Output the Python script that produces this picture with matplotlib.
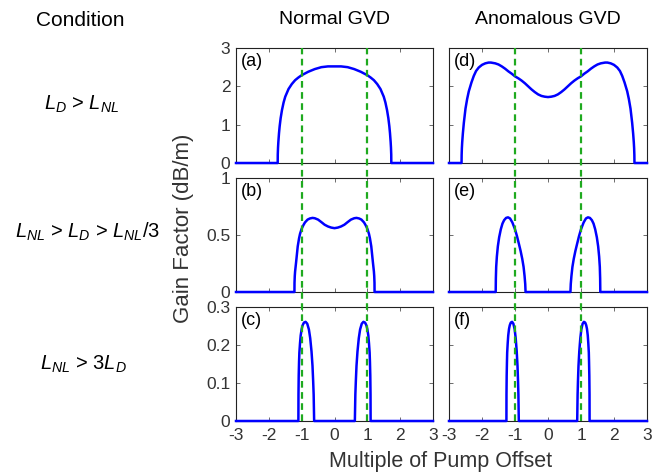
import matplotlib
matplotlib.use("Agg")
import matplotlib.pyplot as plt

plt.rcParams['font.family'] = ['Liberation Sans', 'DejaVu Sans']
plt.rcParams['mathtext.fontset'] = 'custom'
plt.rcParams['mathtext.it'] = 'Liberation Sans:italic'
plt.rcParams['mathtext.rm'] = 'Liberation Sans'
plt.rcParams['mathtext.default'] = 'it'

# ---------------- data ----------------
columns = ['Normal GVD', 'Anomalous GVD']
conditions = [r'$L_D$ > $L_{NL}$', r'$L_{NL}$ > $L_D$ > $L_{NL}$/3', r'$L_{NL}$ > 3$L_D$']
panel_labels = ['(a)', '(b)', '(c)', '(d)', '(e)', '(f)']
x_ticks = [-3, -2, -1, 0, 1, 2, 3]
y_ticks_rows = [[0, 1, 2, 3], [0, 0.5, 1], [0, 0.1, 0.2, 0.3]]
y_tick_labels_rows = [['0', '1', '2', '3'], ['0', '0.5', '1'], ['0', '0.1', '0.2', '0.3']]
y_max_rows = [3, 1, 0.3]
pump_offsets = [-1, 1]

# (a) normal GVD, L_D > L_NL
xa = [-3.0, -1.73, -1.728, -1.72, -1.71, -1.69, -1.67, -1.64, -1.6, -1.55, -1.5, -1.4, -1.3, -1.2, -1.1, -1.0,
      -0.8, -0.6, -0.4, -0.2, 0.0, 0.2, 0.4, 0.6, 0.8, 1.0, 1.1, 1.2, 1.3, 1.4, 1.5, 1.55, 1.6, 1.64, 1.67, 1.69,
      1.71, 1.72, 1.728, 1.73, 3.0]
ya = [0, 0, 0.22, 0.40, 0.55, 0.78, 0.96, 1.17, 1.38, 1.58, 1.73, 1.93, 2.06, 2.16, 2.23, 2.29,
      2.38, 2.45, 2.50, 2.52, 2.52, 2.52, 2.50, 2.45, 2.38, 2.29, 2.23, 2.16, 2.06, 1.93, 1.73, 1.58, 1.38, 1.17, 0.96, 0.78,
      0.55, 0.40, 0.22, 0, 0]

# (b) normal GVD, L_NL > L_D > L_NL/3
xb = [-3.0, -1.22, -1.218, -1.21, -1.20, -1.17, -1.12, -1.08, -1.05, -1.0, -0.95, -0.9, -0.82, -0.75, -0.67, -0.6,
      -0.5, -0.4, -0.3, -0.2, -0.1, 0.0, 0.1, 0.2, 0.3, 0.4, 0.5, 0.6, 0.67, 0.75, 0.82, 0.9, 0.95, 1.0, 1.05, 1.08,
      1.12, 1.17, 1.20, 1.21, 1.218, 1.22, 3.0]
yb = [0, 0, 0.08, 0.14, 0.18, 0.26, 0.40, 0.47, 0.51, 0.555, 0.585, 0.61, 0.635, 0.645, 0.65, 0.647,
      0.635, 0.613, 0.59, 0.575, 0.565, 0.56, 0.565, 0.575, 0.59, 0.613, 0.635, 0.647, 0.65, 0.645, 0.635, 0.61, 0.585,
      0.555, 0.51, 0.47, 0.40, 0.26, 0.18, 0.14, 0.08, 0, 0]

# (c) normal GVD, L_NL > 3 L_D
xc = [-3.0, -1.10, -1.097, -1.09, -1.08, -1.07, -1.05, -1.03, -1.0, -0.97, -0.93, -0.88, -0.83, -0.78, -0.74,
      -0.70, -0.67, -0.65, -0.635, -0.62, 0.62, 0.635, 0.65, 0.67, 0.70, 0.74, 0.78, 0.83, 0.88, 0.93, 0.97, 1.0,
      1.03, 1.05, 1.07, 1.08, 1.09, 1.097, 1.10, 3.0]
yc = [0, 0, 0.07, 0.12, 0.155, 0.18, 0.205, 0.225, 0.242, 0.252, 0.259, 0.261, 0.256, 0.241, 0.218,
      0.183, 0.145, 0.105, 0.07, 0, 0, 0.07, 0.105, 0.145, 0.183, 0.218, 0.241, 0.256, 0.261, 0.259, 0.252, 0.242,
      0.225, 0.205, 0.18, 0.155, 0.12, 0.07, 0, 0]

# (d) anomalous GVD, L_D > L_NL
xd = [-3.0, -2.62, -2.617, -2.61, -2.60, -2.58, -2.55, -2.50, -2.45, -2.40, -2.32, -2.25, -2.18, -2.10, -2.0,
      -1.9, -1.8, -1.73, -1.6, -1.5, -1.4, -1.3, -1.2, -1.1, -1.0, -0.9, -0.8, -0.7, -0.6, -0.5, -0.4, -0.3, -0.2,
      -0.1, 0.0, 0.1, 0.2, 0.3, 0.4, 0.5, 0.6, 0.7, 0.8, 0.9, 1.0, 1.1, 1.2, 1.3, 1.4, 1.5, 1.6, 1.73, 1.8, 1.9,
      2.0, 2.10, 2.18, 2.25, 2.32, 2.40, 2.45, 2.50, 2.55, 2.58, 2.60, 2.61, 2.617, 2.62, 3.0]
yd = [0, 0, 0.21, 0.385, 0.54, 0.77, 1.05, 1.42, 1.67, 1.87, 2.10, 2.27, 2.40, 2.49, 2.56,
      2.60, 2.62, 2.62, 2.60, 2.57, 2.52, 2.46, 2.39, 2.33, 2.26, 2.21, 2.15, 2.08, 2.00, 1.92, 1.85, 1.79, 1.75,
      1.73, 1.72, 1.73, 1.75, 1.79, 1.85, 1.92, 2.00, 2.08, 2.15, 2.21, 2.26, 2.33, 2.39, 2.46, 2.52, 2.57, 2.60, 2.62,
      2.62, 2.60, 2.56, 2.49, 2.40, 2.27, 2.10, 1.87, 1.67, 1.42, 1.05, 0.77, 0.54, 0.385, 0.21, 0, 0]

# (e) anomalous GVD, L_NL > L_D > L_NL/3
xe = [-3.0, -1.585, -1.58, -1.57, -1.55, -1.52, -1.48, -1.43, -1.38, -1.33, -1.27, -1.21, -1.15, -1.08, -1.0,
      -0.94, -0.88, -0.83, -0.78, -0.74, -0.71, -0.69, -0.68, 0.68, 0.69, 0.71, 0.74, 0.78, 0.83, 0.88, 0.94, 1.0,
      1.08, 1.15, 1.21, 1.27, 1.33, 1.38, 1.43, 1.48, 1.52, 1.55, 1.57, 1.58, 1.585, 3.0]
ye = [0, 0, 0.12, 0.22, 0.31, 0.40, 0.48, 0.55, 0.60, 0.63, 0.65, 0.655, 0.645, 0.61, 0.55,
      0.49, 0.42, 0.36, 0.29, 0.22, 0.14, 0.07, 0, 0, 0.07, 0.14, 0.22, 0.29, 0.36, 0.42, 0.49, 0.55,
      0.61, 0.645, 0.655, 0.65, 0.63, 0.60, 0.55, 0.48, 0.40, 0.31, 0.22, 0.12, 0, 0]

# (f) anomalous GVD, L_NL > 3 L_D
xf = [-3.0, -1.26, -1.258, -1.252, -1.244, -1.237, -1.221, -1.205, -1.182, -1.158, -1.127, -1.088, -1.049,
      -1.010, -0.979, -0.948, -0.924, -0.908, -0.897, -0.885, 0.885, 0.897, 0.908, 0.924, 0.948, 0.979, 1.010,
      1.049, 1.088, 1.127, 1.158, 1.182, 1.205, 1.221, 1.237, 1.244, 1.252, 1.258, 1.26, 3.0]
yf = [0, 0, 0.07, 0.12, 0.155, 0.18, 0.205, 0.225, 0.242, 0.252, 0.259, 0.261, 0.256,
      0.241, 0.218, 0.183, 0.145, 0.105, 0.07, 0, 0, 0.07, 0.105, 0.145, 0.183, 0.218, 0.241,
      0.256, 0.261, 0.259, 0.252, 0.242, 0.225, 0.205, 0.18, 0.155, 0.12, 0.07, 0, 0]

curves = [[(xa, ya), (xd, yd)], [(xb, yb), (xe, ye)], [(xc, yc), (xf, yf)]]

# ---------------- layout ----------------
W, H = 664, 475
fig = plt.figure(figsize=(W / 100, H / 100), dpi=100)

col_px = [(236, 433), (449, 647)]
row_px = [(48, 163), (178, 292), (307, 421)]

BLUE = '#0000ff'
GREEN = '#1faa1f'
TICKC = '#333333'

axes = [[None, None], [None, None], [None, None]]
for r in range(3):
    for c in range(2):
        x0, x1 = col_px[c]
        y0, y1 = row_px[r]
        ax = fig.add_axes([x0 / W, 1 - y1 / H, (x1 - x0) / W, (y1 - y0) / H])
        axes[r][c] = ax
        xs, ys = curves[r][c]
        ax.plot(xs, ys, color=BLUE, lw=1.8, clip_on=False, zorder=3, solid_joinstyle='round')
        ax.set_xlim(-3, 3)
        ax.set_ylim(0, y_max_rows[r])
        ax.set_xticks(x_ticks)
        ax.set_yticks(y_ticks_rows[r])
        if c == 0:
            ax.set_yticklabels(y_tick_labels_rows[r])
        else:
            ax.set_yticklabels([])
        if r == 2:
            ax.set_xticklabels([str(t) for t in x_ticks])
        else:
            ax.set_xticklabels([])
        ax.tick_params(direction='in', top=True, right=True, length=3, width=0.6,
                       labelsize=12.5, colors='#555555', labelcolor=TICKC)
        ax.tick_params(axis='x', pad=5)
        ax.tick_params(axis='y', pad=4)
        for s in ax.spines.values():
            s.set_linewidth(0.8)
            s.set_color('#222222')
        ax.text(0.025, 0.96, panel_labels[c * 3 + r], transform=ax.transAxes, ha='left', va='top',
                fontsize=13, color='black')

# green dashed lines at the pump offsets, running through all rows of each column
for c in range(2):
    x0, x1 = col_px[c]
    top = row_px[0][0]
    bot = row_px[2][1]
    ov = fig.add_axes([x0 / W, 1 - bot / H, (x1 - x0) / W, (bot - top) / H])
    ov.set_xlim(-3, 3)
    ov.set_ylim(0, 1)
    ov.axis('off')
    ov.patch.set_alpha(0)
    ov.set_zorder(10)
    for p in pump_offsets:
        ov.axvline(p, color=GREEN, lw=1.6, linestyle=(0, (3, 2)))

# text
fig.text(80 / W, 1 - 20 / H, 'Condition', ha='center', va='center', fontsize=15, color='black')
for c, name in enumerate(columns):
    x0, x1 = col_px[c]
    fig.text((x0 + x1) / 2 / W, 1 - 20 / H, name, ha='center', va='center', fontsize=14, color='black')
cond_y = [104, 232, 364]
cond_x = [82, 88, 83]
for i, t in enumerate(conditions):
    fig.text(cond_x[i] / W, 1 - cond_y[i] / H, t, ha='center', va='center', fontsize=14.5, color='black')

fig.text(184 / W, 1 - 228 / H, 'Gain Factor (dB/m)', rotation=90, ha='center', va='center',
         fontsize=16, color=TICKC)
fig.text(441 / W, 1 - 462 / H, 'Multiple of Pump Offset', ha='center', va='center',
         fontsize=15.5, color=TICKC)

fig.savefig('out.png', dpi=100)
